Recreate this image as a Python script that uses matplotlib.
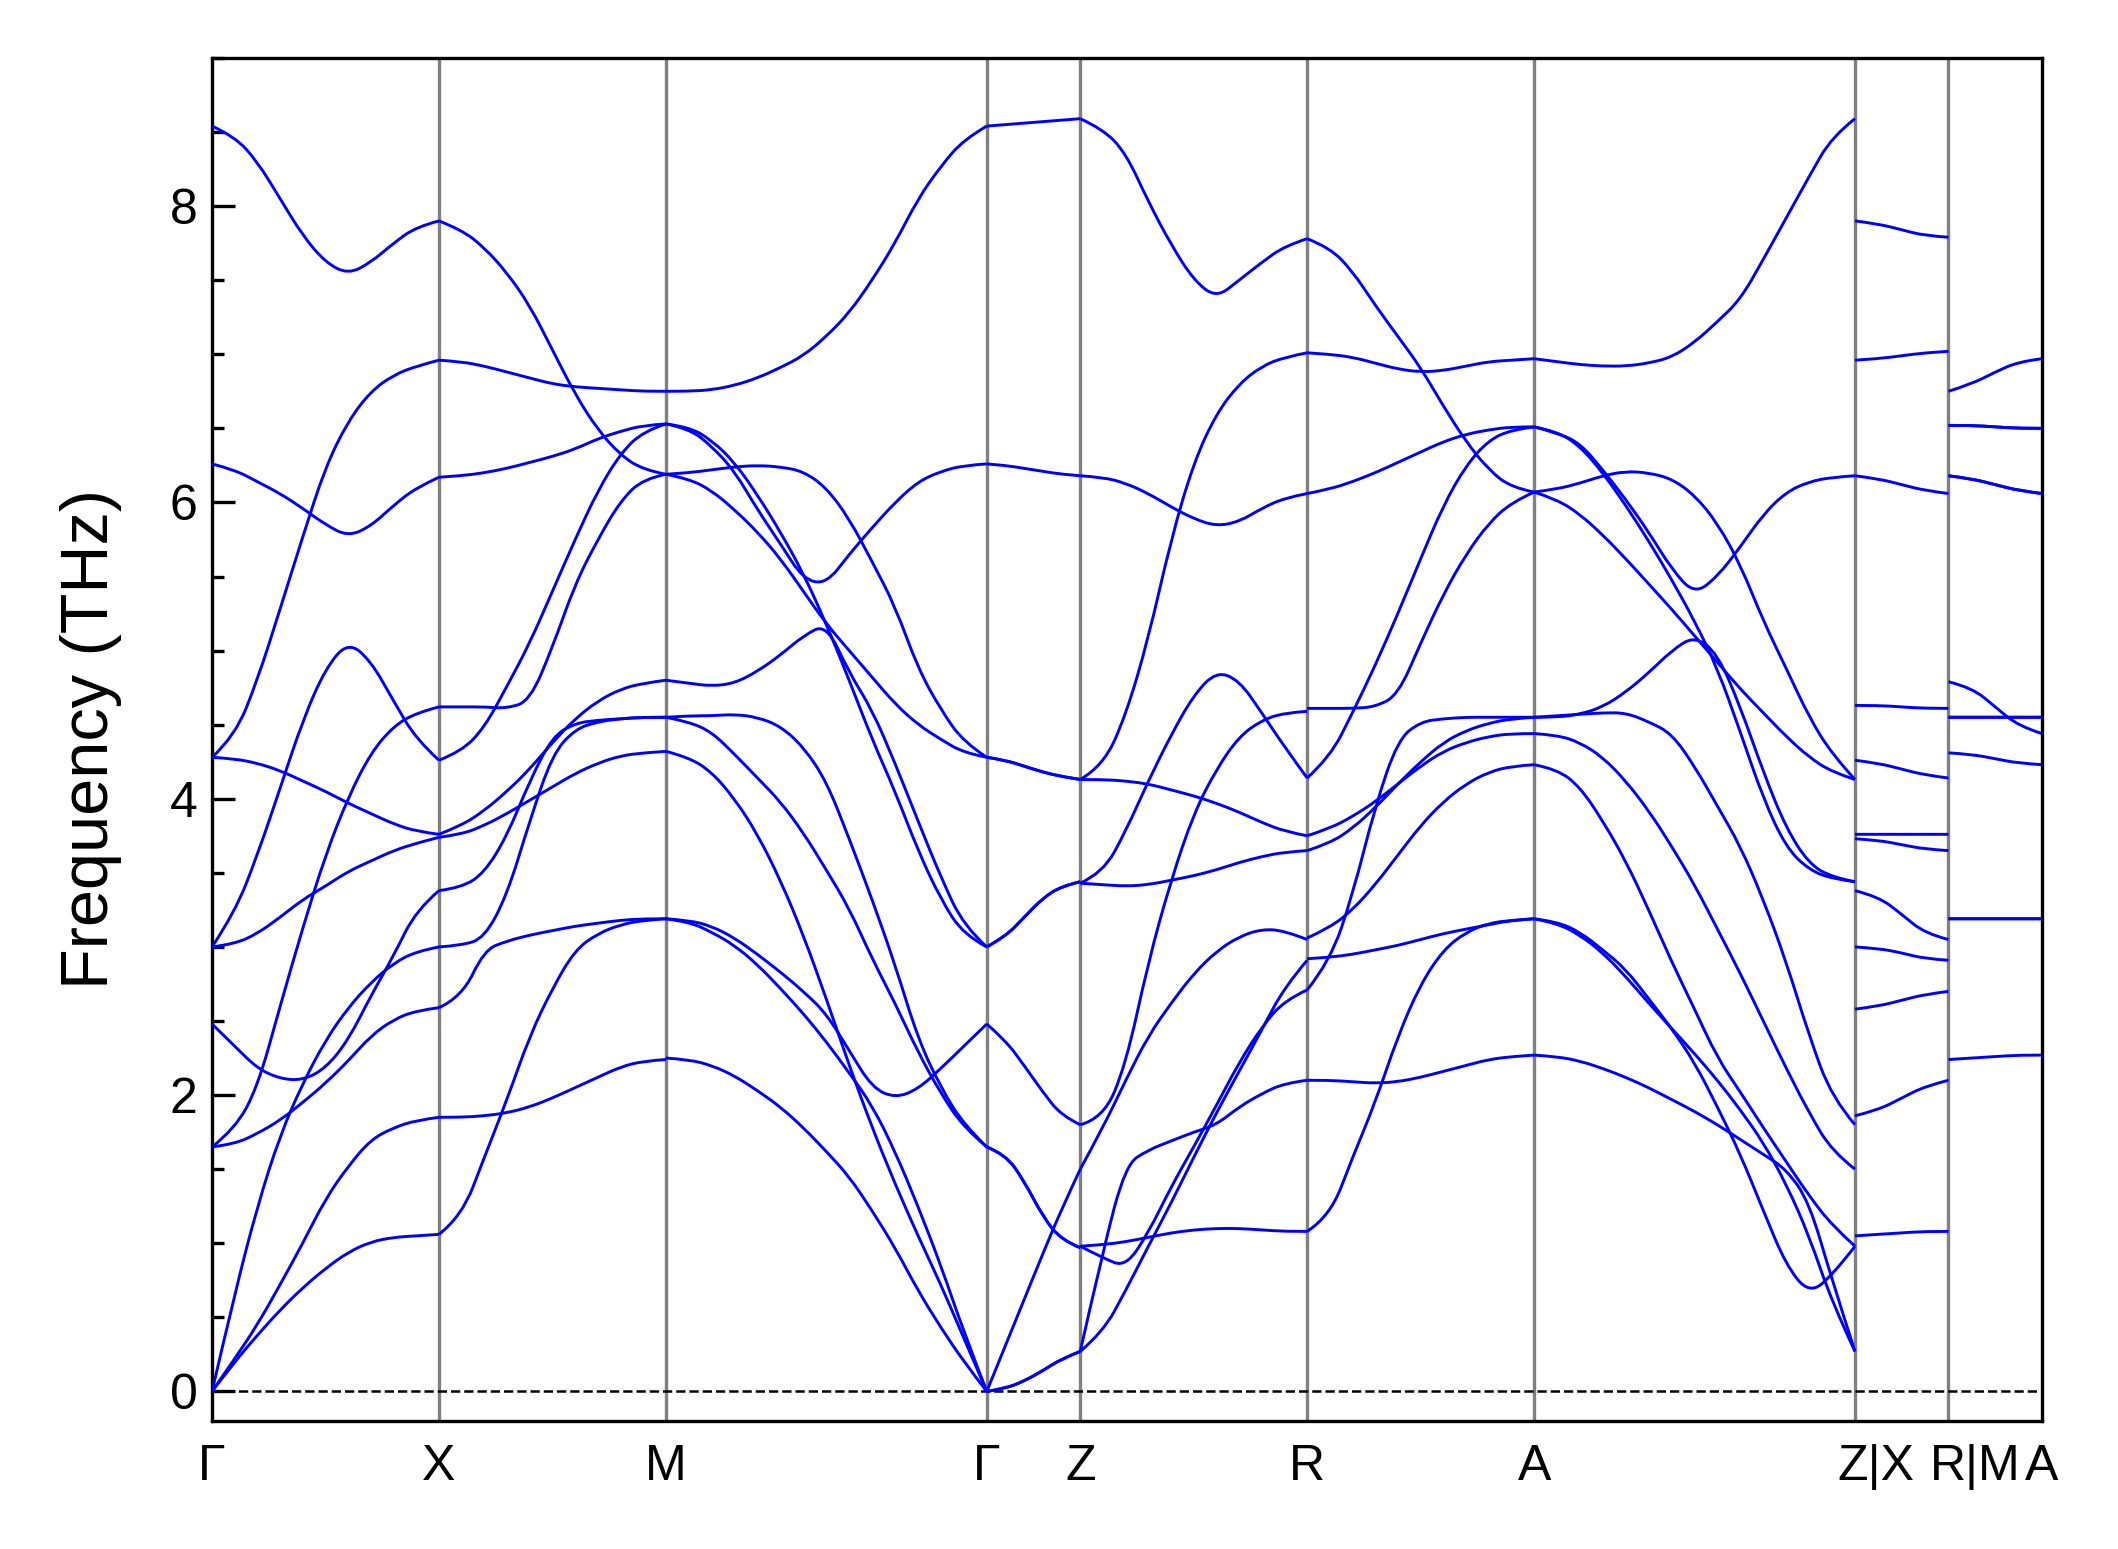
import numpy as np
import matplotlib.pyplot as plt
from matplotlib.path import Path
from matplotlib.patches import PathPatch
from matplotlib.ticker import MultipleLocator
from matplotlib.transforms import ScaledTranslation

plt.rcParams['font.family'] = ['Liberation Sans', 'DejaVu Sans']

# high-symmetry path, segment lengths in units of |Γ-X|
labels = ['Γ', 'X', 'M', 'Γ', 'Z', 'R', 'A', 'Z|X', 'R|M', 'A']
seg_len = [1.0, 1.0, 1.414, 0.412, 1.0, 1.0, 1.414, 0.412, 0.412]

# phonon frequencies (THz), sampled evenly along each segment
GX = [
    [8.54, 8.47, 8.30, 8.05, 7.80, 7.62, 7.54, 7.62, 7.75, 7.86, 7.90],
    [4.28, 4.42, 4.80, 5.28, 5.77, 6.24, 6.55, 6.75, 6.86, 6.92, 6.96],
    [6.26, 6.22, 6.14, 6.06, 5.96, 5.85, 5.77, 5.84, 5.98, 6.10, 6.17],
    [3.00, 3.23, 3.62, 4.07, 4.53, 4.88, 5.06, 4.93, 4.66, 4.40, 4.26],
    [4.28, 4.27, 4.24, 4.19, 4.12, 4.05, 3.97, 3.90, 3.83, 3.78, 3.76],
    [3.00, 3.02, 3.09, 3.20, 3.32, 3.41, 3.51, 3.58, 3.65, 3.70, 3.74],
    [1.65, 1.77, 2.05, 2.60, 3.13, 3.62, 4.01, 4.31, 4.49, 4.58, 4.62],
    [2.48, 2.33, 2.18, 2.11, 2.10, 2.18, 2.37, 2.67, 2.94, 3.25, 3.38],
    [1.65, 1.67, 1.74, 1.83, 1.95, 2.08, 2.23, 2.40, 2.51, 2.57, 2.59],
    [0.00, 0.66, 1.25, 1.73, 2.08, 2.37, 2.59, 2.76, 2.89, 2.97, 3.00],
    [0.00, 0.22, 0.45, 0.72, 1.00, 1.30, 1.52, 1.70, 1.78, 1.83, 1.85],
    [0.00, 0.20, 0.38, 0.55, 0.70, 0.83, 0.94, 1.01, 1.04, 1.05, 1.06],
]

XM = [
    [7.90, 7.84, 7.72, 7.55, 7.33, 7.03, 6.73, 6.49, 6.32, 6.22, 6.19],
    [6.96, 6.95, 6.92, 6.88, 6.84, 6.80, 6.78, 6.77, 6.76, 6.75, 6.75],
    [6.17, 6.18, 6.20, 6.23, 6.27, 6.31, 6.36, 6.43, 6.48, 6.52, 6.53],
    [4.62, 4.62, 4.62, 4.61, 4.66, 5.02, 5.45, 5.75, 6.01, 6.16, 6.19],
    [4.26, 4.32, 4.48, 4.76, 5.05, 5.40, 5.75, 6.08, 6.33, 6.48, 6.53],
    [3.76, 3.82, 3.92, 4.05, 4.20, 4.38, 4.54, 4.66, 4.74, 4.78, 4.80],
    [3.74, 3.76, 3.82, 3.90, 3.99, 4.08, 4.17, 4.24, 4.29, 4.31, 4.32],
    [3.38, 3.40, 3.50, 3.75, 4.12, 4.42, 4.51, 4.53, 4.54, 4.55, 4.55],
    [3.00, 3.01, 3.06, 3.35, 3.85, 4.30, 4.47, 4.52, 4.54, 4.55, 4.55],
    [2.59, 2.66, 2.98, 3.04, 3.08, 3.11, 3.14, 3.16, 3.18, 3.19, 3.19],
    [1.06, 1.18, 1.58, 1.97, 2.40, 2.72, 2.98, 3.09, 3.15, 3.18, 3.19],
    [1.85, 1.85, 1.86, 1.88, 1.92, 1.98, 2.05, 2.12, 2.19, 2.23, 2.24],
]

MG = [
    [6.75, 6.75, 6.76, 6.79, 6.84, 6.91, 6.99, 7.12, 7.28, 7.50, 7.75, 8.05, 8.27, 8.45, 8.54],
    [6.53, 6.50, 6.38, 6.21, 5.95, 5.72, 5.48, 5.45, 5.65, 5.83, 6.00, 6.14, 6.21, 6.25, 6.26],
    [6.53, 6.51, 6.42, 6.27, 6.05, 5.80, 5.52, 5.18, 4.80, 4.40, 4.05, 3.65, 3.32, 3.08, 3.00],
    [4.80, 4.78, 4.76, 4.78, 4.86, 4.97, 5.10, 5.18, 4.85, 4.60, 4.24, 3.85, 3.47, 3.14, 3.00],
    [6.19, 6.20, 6.22, 6.24, 6.25, 6.24, 6.21, 6.10, 5.89, 5.60, 5.30, 4.88, 4.60, 4.38, 4.28],
    [6.19, 6.16, 6.08, 5.95, 5.80, 5.62, 5.40, 5.18, 5.00, 4.82, 4.64, 4.50, 4.40, 4.31, 4.28],
    [4.55, 4.56, 4.56, 4.57, 4.55, 4.49, 4.35, 4.12, 3.73, 3.32, 2.88, 2.38, 2.05, 1.80, 1.65],
    [4.55, 4.52, 4.45, 4.30, 4.14, 3.98, 3.77, 3.52, 3.26, 2.92, 2.62, 2.29, 2.01, 1.78, 1.65],
    [4.32, 4.28, 4.18, 4.00, 3.76, 3.45, 3.08, 2.65, 2.20, 1.78, 1.40, 1.05, 0.72, 0.36, 0.00],
    [3.19, 3.18, 3.14, 3.06, 2.95, 2.83, 2.70, 2.55, 2.30, 2.05, 1.98, 2.04, 2.18, 2.33, 2.48],
    [3.19, 3.17, 3.10, 3.01, 2.88, 2.72, 2.55, 2.36, 2.15, 1.93, 1.62, 1.25, 0.85, 0.40, 0.00],
    [2.25, 2.24, 2.20, 2.13, 2.03, 1.92, 1.78, 1.62, 1.45, 1.22, 0.97, 0.68, 0.43, 0.20, 0.00],
]

GZ = [
    [8.54, 8.55, 8.56, 8.57, 8.58, 8.59],
    [6.26, 6.25, 6.23, 6.21, 6.19, 6.18],
    [4.28, 4.26, 4.22, 4.18, 4.15, 4.13],
    [4.28, 4.26, 4.22, 4.18, 4.15, 4.13],
    [3.00, 3.07, 3.20, 3.33, 3.41, 3.44],
    [3.00, 3.07, 3.20, 3.33, 3.41, 3.44],
    [2.48, 2.37, 2.20, 2.02, 1.86, 1.80],
    [1.65, 1.60, 1.42, 1.18, 1.02, 0.97],
    [1.65, 1.60, 1.42, 1.18, 1.02, 0.97],
    [0.00, 0.31, 0.62, 0.93, 1.23, 1.50],
    [0.00, 0.02, 0.07, 0.14, 0.22, 0.27],
    [0.00, 0.02, 0.07, 0.14, 0.22, 0.27],
]

ZR = [
    [8.59, 8.52, 8.36, 8.03, 7.74, 7.50, 7.38, 7.50, 7.62, 7.73, 7.78],
    [6.18, 6.17, 6.13, 6.06, 5.97, 5.89, 5.84, 5.87, 5.96, 6.03, 6.06],
    [4.13, 4.22, 4.56, 5.08, 5.75, 6.27, 6.60, 6.80, 6.92, 6.98, 7.01],
    [4.13, 4.13, 4.12, 4.10, 4.06, 4.02, 3.97, 3.91, 3.84, 3.78, 3.75],
    [3.43, 3.50, 3.78, 4.12, 4.43, 4.70, 4.86, 4.80, 4.58, 4.35, 4.14],
    [3.43, 3.42, 3.41, 3.42, 3.45, 3.48, 3.52, 3.57, 3.61, 3.64, 3.65],
    [1.80, 1.84, 2.20, 2.90, 3.45, 3.90, 4.20, 4.42, 4.53, 4.58, 4.59],
    [1.50, 1.78, 2.10, 2.40, 2.62, 2.82, 2.97, 3.07, 3.12, 3.11, 3.05],
    [0.98, 0.99, 1.01, 1.04, 1.07, 1.09, 1.10, 1.10, 1.09, 1.08, 1.08],
    [0.27, 0.95, 1.53, 1.63, 1.69, 1.75, 1.80, 1.92, 2.01, 2.08, 2.10],
    [0.27, 0.40, 0.68, 0.98, 1.27, 1.58, 1.88, 2.16, 2.44, 2.73, 2.91],
    [0.98, 0.90, 0.84, 1.07, 1.38, 1.65, 1.93, 2.22, 2.46, 2.64, 2.71],
]

RA = [
    [7.78, 7.72, 7.56, 7.33, 7.12, 6.91, 6.65, 6.41, 6.22, 6.10, 6.07],
    [7.01, 7.00, 6.98, 6.94, 6.90, 6.88, 6.89, 6.92, 6.95, 6.96, 6.97],
    [6.06, 6.09, 6.14, 6.20, 6.27, 6.34, 6.41, 6.46, 6.49, 6.51, 6.51],
    [4.14, 4.28, 4.58, 4.90, 5.25, 5.62, 5.98, 6.25, 6.42, 6.49, 6.51],
    [4.61, 4.61, 4.61, 4.62, 4.70, 5.05, 5.38, 5.65, 5.86, 6.00, 6.07],
    [1.08, 1.18, 1.58, 1.95, 2.40, 2.75, 2.98, 3.10, 3.16, 3.18, 3.19],
    [2.10, 2.10, 2.09, 2.08, 2.09, 2.12, 2.16, 2.20, 2.24, 2.26, 2.27],
    [2.71, 2.90, 3.35, 3.95, 4.40, 4.52, 4.54, 4.55, 4.55, 4.55, 4.55],
    [2.92, 2.93, 2.95, 2.98, 3.01, 3.05, 3.09, 3.12, 3.15, 3.18, 3.19],
    [3.06, 3.13, 3.25, 3.42, 3.62, 3.82, 3.98, 4.10, 4.18, 4.22, 4.23],
    [3.65, 3.70, 3.80, 3.94, 4.10, 4.25, 4.38, 4.46, 4.51, 4.54, 4.55],
    [3.75, 3.80, 3.88, 3.98, 4.10, 4.22, 4.32, 4.38, 4.42, 4.44, 4.44],
]

AZ = [
    [6.97, 6.95, 6.93, 6.92, 6.92, 6.94, 6.98, 7.08, 7.22, 7.37, 7.64, 7.92, 8.20, 8.47, 8.59],
    [6.51, 6.47, 6.40, 6.22, 6.02, 5.80, 5.55, 5.38, 5.50, 5.70, 5.92, 6.07, 6.14, 6.17, 6.18],
    [6.51, 6.48, 6.38, 6.20, 5.98, 5.74, 5.48, 5.20, 4.88, 4.45, 4.00, 3.67, 3.52, 3.46, 3.44],
    [4.55, 4.55, 4.57, 4.62, 4.72, 4.85, 5.00, 5.10, 4.98, 4.62, 4.18, 3.80, 3.56, 3.47, 3.44],
    [6.07, 6.09, 6.13, 6.18, 6.21, 6.20, 6.16, 6.05, 5.86, 5.58, 5.20, 4.88, 4.55, 4.30, 4.13],
    [6.07, 6.02, 5.92, 5.78, 5.62, 5.45, 5.28, 5.10, 4.92, 4.74, 4.58, 4.42, 4.28, 4.18, 4.13],
    [4.55, 4.56, 4.57, 4.58, 4.58, 4.52, 4.44, 4.22, 3.95, 3.68, 3.32, 2.90, 2.40, 1.98, 1.80],
    [4.44, 4.43, 4.38, 4.28, 4.12, 3.92, 3.68, 3.42, 3.12, 2.82, 2.50, 2.18, 1.88, 1.62, 1.50],
    [4.23, 4.20, 4.08, 3.85, 3.58, 3.25, 2.90, 2.58, 2.25, 2.02, 1.78, 1.55, 1.32, 1.12, 0.98],
    [3.19, 3.17, 3.10, 2.98, 2.85, 2.65, 2.45, 2.22, 1.92, 1.60, 1.22, 0.85, 0.66, 0.78, 0.98],
    [3.19, 3.16, 3.08, 2.96, 2.80, 2.62, 2.45, 2.28, 2.10, 1.90, 1.68, 1.40, 1.05, 0.60, 0.27],
    [2.27, 2.26, 2.23, 2.18, 2.12, 2.05, 1.97, 1.89, 1.80, 1.70, 1.60, 1.50, 1.28, 0.75, 0.27],
]

XR = [
    [7.90, 7.88, 7.84, 7.80, 7.79],
    [6.96, 6.97, 6.99, 7.01, 7.02],
    [6.18, 6.16, 6.12, 6.08, 6.06],
    [4.63, 4.63, 4.62, 4.61, 4.61],
    [4.26, 4.24, 4.20, 4.16, 4.14],
    [3.76, 3.76, 3.76, 3.76, 3.76],
    [3.73, 3.72, 3.69, 3.66, 3.65],
    [3.38, 3.34, 3.22, 3.09, 3.05],
    [3.00, 2.99, 2.96, 2.92, 2.91],
    [2.58, 2.60, 2.64, 2.68, 2.70],
    [1.86, 1.90, 1.98, 2.06, 2.10],
    [1.05, 1.06, 1.07, 1.08, 1.08],
]

MA = [
    [6.75, 6.80, 6.88, 6.95, 6.97],
    [6.52, 6.52, 6.51, 6.50, 6.50],
    [6.52, 6.52, 6.51, 6.50, 6.50],
    [6.18, 6.16, 6.12, 6.08, 6.06],
    [6.18, 6.16, 6.12, 6.08, 6.06],
    [4.79, 4.75, 4.62, 4.49, 4.44],
    [4.55, 4.55, 4.55, 4.55, 4.55],
    [4.55, 4.55, 4.55, 4.55, 4.55],
    [4.31, 4.30, 4.27, 4.24, 4.23],
    [3.19, 3.19, 3.19, 3.19, 3.19],
    [3.19, 3.19, 3.19, 3.19, 3.19],
    [2.24, 2.25, 2.26, 2.27, 2.27],
]

segments = [GX, XM, MG, GZ, ZR, RA, AZ, XR, MA]

ticks = np.concatenate([[0.0], np.cumsum(seg_len)])


def band_path(xq, vals):
    # quadratic B-spline through the sampled points, drawn as a bezier path
    pts = np.column_stack([xq, vals])
    verts, codes = [pts[0]], [Path.MOVETO]
    n = len(pts)
    for i in range(1, n - 1):
        end = pts[i + 1] if i == n - 2 else (pts[i] + pts[i + 1]) / 2
        verts += [pts[i], end]
        codes += [Path.CURVE3, Path.CURVE3]
    return Path(verts, codes)


fig = plt.figure(figsize=(2118 / 300, 1549 / 300), dpi=300)
ax = fig.add_axes([0.1001, 0.0826, 0.8640, 0.8800])

for k, bands in enumerate(segments):
    for vals in bands:
        xq = np.linspace(ticks[k], ticks[k + 1], len(vals))
        ax.add_patch(PathPatch(band_path(xq, vals), facecolor='none',
                               edgecolor='#0000ff', lw=0.7, zorder=3))

for xt in ticks[1:-1]:
    ax.axvline(xt, color='gray', lw=0.8, zorder=1)
ax.axhline(0, color='black', lw=0.6, ls='--', zorder=2)

ax.set_xlim(ticks[0], ticks[-1])
ax.set_ylim(-0.2, 9.0)
ax.set_xticks(ticks)
ax.set_xticklabels(labels)
ax.yaxis.set_major_locator(MultipleLocator(2))
ax.yaxis.set_minor_locator(MultipleLocator(0.5))
ax.tick_params(axis='x', length=0, labelsize=12, pad=5.5)
ax.tick_params(axis='y', which='major', direction='in', length=5.5, width=0.8, labelsize=12)
ax.tick_params(axis='y', which='minor', direction='in', length=2.8, width=0.8)
for sp in ax.spines.values():
    sp.set_linewidth(0.8)
ax.set_ylabel('Frequency (THz)', fontsize=16, labelpad=11.5)

# the two combined labels sit a little right of their lines
tl = ax.get_xticklabels()
for idx, dx in [(7, 21), (8, 27)]:
    tl[idx].set_transform(tl[idx].get_transform() + ScaledTranslation(dx / 300, 0, fig.dpi_scale_trans))

fig.savefig('out.png', dpi=300)
